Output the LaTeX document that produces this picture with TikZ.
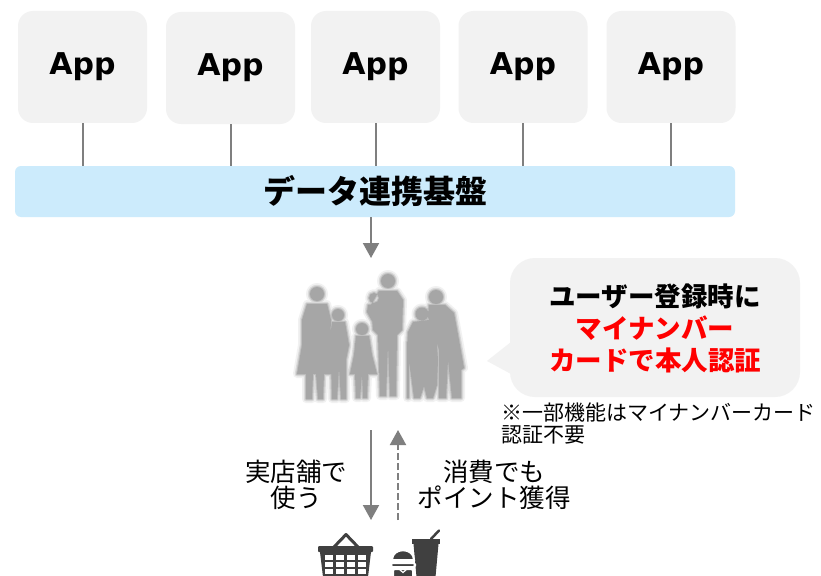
\documentclass[tikz,border=0pt]{standalone}
\usepackage{fontspec}
\setmainfont{Noto Sans CJK JP}
\newfontfamily\appfont{DejaVu Sans}
\usetikzlibrary{arrows.meta}

\definecolor{boxgray}{HTML}{F2F2F2}
\definecolor{barblue}{HTML}{CCEBFC}
\definecolor{linegray}{HTML}{7F7F7F}
\definecolor{famgray}{HTML}{A6A6A6}
\definecolor{icongray}{HTML}{404040}
\definecolor{alertred}{HTML}{FF0000}

% silhouettes of a family group (heads and bodies)
\def\familyshape{
  (317,294) circle[radius=7pt]
  (307,304) -- (327,304) -- (331,320) -- (330,345) -- (334,374) -- (324,374) -- (323,399) -- (318,399) -- (316,374) -- (313,374) -- (312,399) -- (306,399) -- (306,374) -- (297,374) -- (302,345) -- (302,320) -- cycle
  (338,315) circle[radius=6pt]
  (332,322) -- (345,322) -- (349,345) -- (346,360) -- (346,399) -- (341,399) -- (339,368) -- (337,399) -- (332,399) -- (331,360) -- (329,345) -- cycle
  (362,329) circle[radius=6pt]
  (356,336) -- (369,336) -- (372,355) -- (377,374) -- (368,374) -- (367,398) -- (363,398) -- (362,374) -- (360,398) -- (356,398) -- (355,374) -- (350,374) -- (354,355) -- cycle
  (388,281) circle[radius=7pt]
  (379,291) -- (397,291) -- (403,300) -- (402,330) -- (397,335) -- (396,396) -- (390,396) -- (388,345) -- (386,396) -- (380,396) -- (378,335) -- (373,330) -- (371,305) -- cycle
  (374,298) circle[radius=5pt]
  (368,305) -- (380,303) -- (383,317) -- (372,321) -- (367,312) -- cycle
  (422,314) circle[radius=6.5pt]
  (413,322) -- (429,320) -- (436,330) -- (438,360) -- (437,385) -- (433,398) -- (427,398) -- (424,386) -- (420,398) -- (414,398) -- (411,375) -- (407,350) -- (408,332) -- cycle
  (407.2,342) -- (408.8,342) -- (408.8,398) -- (407.2,398) -- cycle
  (436,297) circle[radius=7pt]
  (429,305) -- (445,305) -- (454,313) -- (459,340) -- (464,368) -- (461,370) -- (461,398) -- (452,398) -- (448,360) -- (446,398) -- (439,398) -- (439,350) -- (434,333) -- (428,317) -- cycle
}

\begin{document}
\begin{tikzpicture}[x=1pt,y=-1pt,
  appbox/.style={fill=boxgray, rounded corners=15pt, minimum width=129pt,
    minimum height=112pt, inner sep=0pt,
    font=\appfont\bfseries\fontsize{30pt}{35pt}\selectfont},
  platform/.style={fill=barblue, rounded corners=6pt, minimum width=720pt,
    minimum height=51pt, inner sep=0pt,
    font=\bfseries\fontsize{32pt}{36pt}\selectfont},
  link/.style={draw=linegray, line width=2pt},
  flow/.style={draw=linegray, line width=2pt, -{Triangle[width=16pt,length=15pt]}},
  bubble/.style={fill=boxgray, rounded corners=25pt, minimum width=290pt,
    minimum height=139pt, inner sep=0pt},
  label/.style={align=center, inner sep=0pt, font=\fontsize{25.5pt}{26pt}\selectfont},
]
\useasboundingbox (0,0) rectangle (821,575);
\fill[white] (0,0) rectangle (821,575);

% apps
\node[appbox] (app1) at (82.5,67) {App};
\node[appbox] (app2) at (230.5,68) {App};
\node[appbox] (app3) at (375.5,67) {App};
\node[appbox] (app4) at (523,67) {App};
\node[appbox] (app5) at (671,67) {App};

% data platform
\node[platform] (bar) at (375,191.5) {データ連携基盤};

\foreach \i in {1,...,5}
  \draw[link] (app\i.south) -- (app\i.south |- bar.north);

% family
\path[draw=famgray, line width=8pt, draw opacity=0.15, line join=round] \familyshape;
\path[draw=famgray, line width=4.5pt, draw opacity=0.3, line join=round] \familyshape;
\path[draw=famgray, line width=2pt, draw opacity=0.5, line join=round] \familyshape;
\path[fill=famgray, line join=round] \familyshape;

\coordinate (famtop) at (371,258);
\draw[flow] (bar.south -| famtop) -- (famtop);

% speech bubble
\node[bubble] (bubble) at (655,327.5) {};
\fill[boxgray] (511,342) -- (487,361) -- (511,374) -- cycle;
\node[align=center, inner sep=0pt, font=\bfseries\fontsize{26.5pt}{32pt}\selectfont] (bubbletext) at ([yshift=-1pt]bubble.center)
  {ユーザー登録時に\\\textcolor{alertred}{マイナンバー}\\\textcolor{alertred}{カードで本人認証}};
\node[anchor=north west, align=left, inner sep=0pt, font=\fontsize{21pt}{22pt}\selectfont] (note) at (501,403)
  {※一部機能はマイナンバーカード\\認証不要};

% shop flows
\coordinate (famfoot) at (371,430);
\coordinate (shopin) at (371,520);
\coordinate (pointout) at (398,520);
\coordinate (pointin) at (398,430);
\draw[flow] (famfoot) -- (shopin);
\draw[flow, dash pattern=on 7pt off 3pt] (pointout) -- (pointin);
\node[label] (uselbl) at (296,485) {実店舗で\\使う};
\node[label] (pointlbl) at (494,485) {消費でも\\ポイント獲得};

% basket icon
\draw[icongray, line width=3pt, line cap=round, line join=round] (334,547) -- (346,534.5) -- (358,547);
\fill[icongray, rounded corners=1pt] (318,546) rectangle (373,552);
\fill[icongray] (320,552) -- (371,552) -- (368,577) -- (323,577) -- cycle;
\foreach \ya/\yb in {555/559.5, 562/566.5, 569/573.5}
  \foreach \xa in {325,336,347,358}
    \fill[white] (\xa,\ya) rectangle ({\xa+8},\yb);

% drink and burger icon
\fill[icongray] (412,539) rectangle (440,544);
\fill[icongray] (413.5,544) -- (438.5,544) -- (435.5,577) -- (416.5,577) -- cycle;
\draw[icongray, line width=2.5pt, line cap=round] (431,539) -- (439,530.5);
\filldraw[fill=icongray, draw=white, line width=2pt] (392,560) .. controls (392,547) and (414,547) .. (414,560) -- cycle;
\filldraw[fill=icongray, draw=white, line width=2pt, rounded corners=1.5pt] (391,563) rectangle (415,567);
\filldraw[fill=icongray, draw=white, line width=2pt, rounded corners=2pt] (393,569) rectangle (413,579);
\draw[white, line width=1.2pt] (399,569) -- (403,572.5) -- (407,569);
\end{tikzpicture}
\end{document}
